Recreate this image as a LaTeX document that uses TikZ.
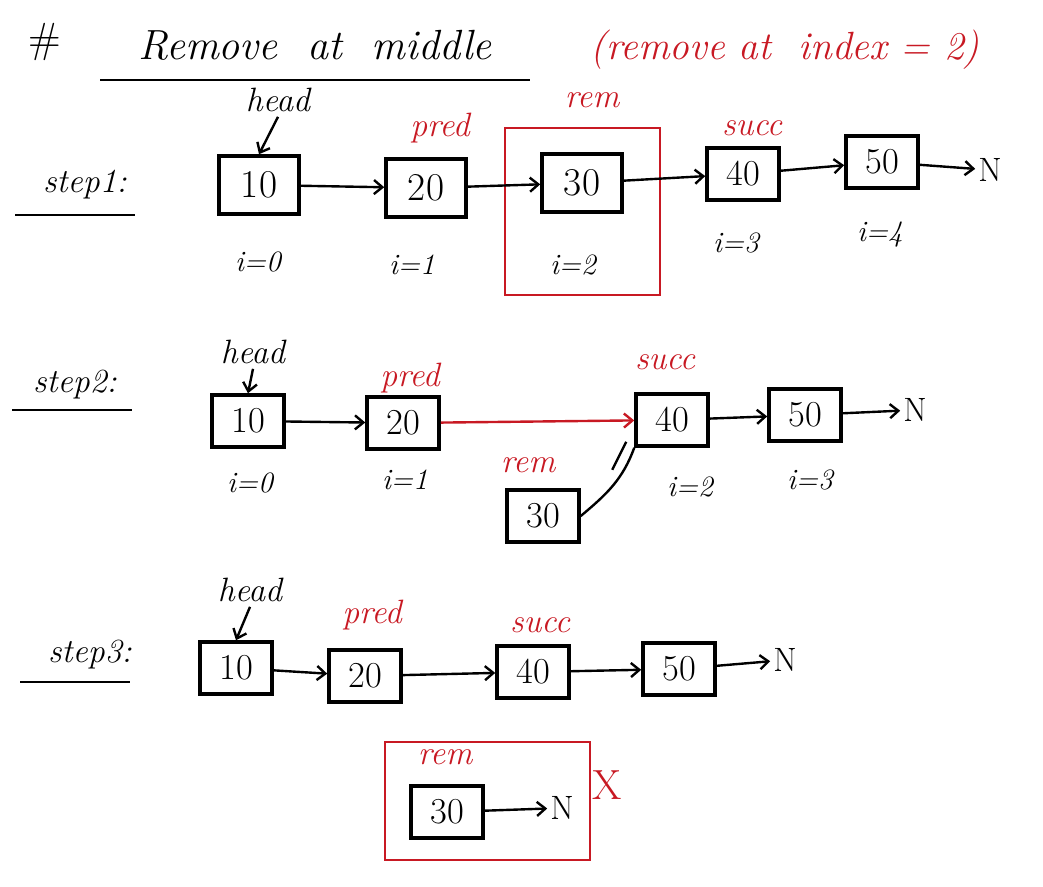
\documentclass[tikz,border=0pt]{standalone}
\usepackage{xcolor}
\usetikzlibrary{arrows.meta,positioning}
\definecolor{penred}{RGB}{200,25,35}

\begin{document}
\begin{tikzpicture}[
  x=0.025cm, y=-0.025cm,
  cell/.style={draw, line width=2.5pt, minimum width=2.0cm, minimum height=1.45cm,
               inner sep=0pt, font=\fontsize{28}{30}\selectfont},
  cellsm/.style={cell, minimum width=1.8cm, minimum height=1.3cm,
                 font=\fontsize{26}{28}\selectfont},
  lbl/.style={font=\fontsize{24}{26}\selectfont\itshape},
  redlbl/.style={lbl, text=penred},
  idx/.style={font=\fontsize{21}{23}\selectfont\itshape},
  nul/.style={font=\fontsize{24}{26}\selectfont, inner sep=2pt},
  arrow/.style={-{Straight Barb[length=6pt,width=10pt]}, line width=1.7pt},
  redarrow/.style={arrow, draw=penred},
  frame/.style={draw=penred, line width=2pt}
]
  \useasboundingbox (0,0) rectangle (1043,886);

  % title
  \node[font=\fontsize{30}{32}\selectfont] (hash) at (45,42) {\#};
  \node[font=\fontsize{30}{32}\selectfont\itshape] (ttl) at (315,45) {Remove\ \ at\ \ middle};
  \draw[line width=1.8pt] (100,80) -- (530,80);
  \node[font=\fontsize{28}{30}\selectfont\itshape, text=penred] (sub) at (785,50)
    {(remove at\ \ index = 2)};

  % step 1
  \node[lbl] (s1) at (85,185) {step1:};
  \draw[line width=1.8pt] (15,215) -- (135,215);
  \node[cell] (a10) at (259,185) {10};
  \node[cell] (a20) at (426,188) {20};
  \node[cell] (a30) at (582,183) {30};
  \node[cellsm] (a40) at (743,174) {40};
  \node[cellsm] (a50) at (882,162) {50};
  \node[nul] (aN) at (990,170) {N};
  \node[lbl] (ahead) at (278,100) {head};
  \node[redlbl] (apred) at (440,128) {pred};
  \node[redlbl] (arem) at (592,100) {rem};
  \node[redlbl] (asucc) at (752,128) {succ};
  \draw[frame] (505,128) rectangle (660,295);
  \node[idx] at (258,262) {i=0};
  \node[idx] at (412,265) {i=1};
  \node[idx] at (573,265) {i=2};
  \node[idx] at (736,243) {i=3};
  \node[idx] at (880,235) {i=4};
  \draw[arrow] (ahead.south) -- (a10.north);
  \draw[arrow] (a10) -- (a20);
  \draw[arrow] (a20) -- (a30);
  \draw[arrow] (a30) -- (a40);
  \draw[arrow] (a40) -- (a50);
  \draw[arrow] (a50) -- (aN);

  % step 2
  \node[lbl] (s2) at (75,385) {step2:};
  \draw[line width=1.8pt] (12,410) -- (132,410);
  \node[cellsm] (b10) at (248,421) {10};
  \node[cellsm] (b20) at (403,423) {20};
  \node[cellsm] (b40) at (672,420) {40};
  \node[cellsm] (b50) at (805,415) {50};
  \node[nul] (bN) at (915,410) {N};
  \node[cellsm] (b30) at (543,516) {30};
  \node[lbl] (bhead) at (253,352) {head};
  \node[redlbl] (bpred) at (410,378) {pred};
  \node[redlbl] (bsucc) at (665,362) {succ};
  \node[redlbl] (brem) at (528,465) {rem};
  \node[idx] at (250,483) {i=0};
  \node[idx] at (405,480) {i=1};
  \node[idx] at (690,487) {i=2};
  \node[idx] at (810,480) {i=3};
  \draw[arrow] (bhead.south) -- (b10.north);
  \draw[arrow] (b10) -- (b20);
  \draw[redarrow] (b20) -- (b40);
  \draw[arrow] (b40) -- (b50);
  \draw[arrow] (b50) -- (bN);
  \draw[line width=1.7pt] (b30.east) to[out=40,in=-110] (b40.south west);
  \draw[line width=1.7pt] ([shift={(-22,22)}]b40.south west) -- ([shift={(-8,-6)}]b40.south west);

  % step 3
  \node[lbl] (s3) at (90,655) {step3:};
  \draw[line width=1.8pt] (20,682) -- (130,682);
  \node[cellsm] (c10) at (236,668) {10};
  \node[cellsm] (c20) at (365,676) {20};
  \node[cellsm] (c40) at (533,672) {40};
  \node[cellsm] (c50) at (679,669) {50};
  \node[nul] (cN) at (785,660) {N};
  \node[lbl] (chead) at (250,590) {head};
  \node[redlbl] (cpred) at (372,615) {pred};
  \node[redlbl] (csucc) at (540,625) {succ};
  \draw[arrow] (chead.south) -- (c10.north);
  \draw[arrow] (c10) -- (c20);
  \draw[arrow] (c20) -- (c40);
  \draw[arrow] (c40) -- (c50);
  \draw[arrow] (c50) -- (cN);
  \draw[frame] (385,742) rectangle (590,860);
  \node[redlbl] (crem) at (445,757) {rem};
  \node[cellsm] (c30) at (447,812) {30};
  \node[nul] (cN2) at (562,808) {N};
  \draw[arrow] (c30) -- (cN2);
  \node[font=\fontsize{30}{32}\selectfont, text=penred] (cross) at (607,785) {X};
\end{tikzpicture}
\end{document}
